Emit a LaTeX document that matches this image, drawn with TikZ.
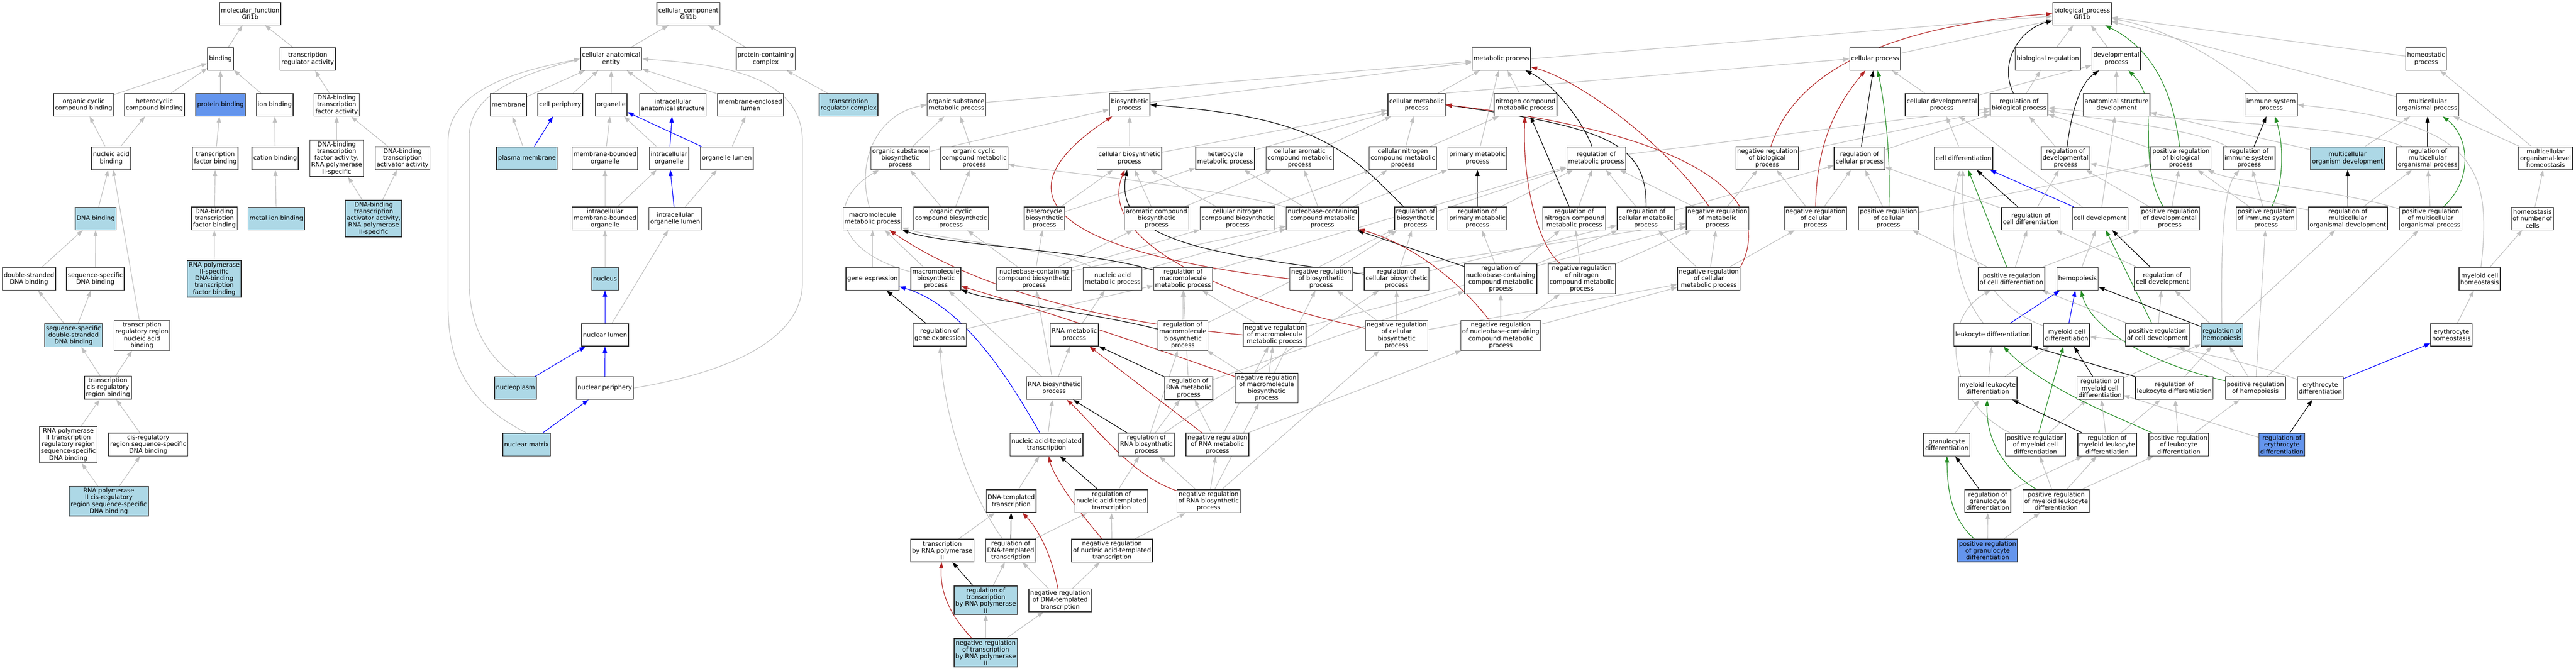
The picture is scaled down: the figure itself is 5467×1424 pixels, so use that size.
\documentclass[tikz,border=0pt]{standalone}
\usepackage{fontspec}
\setmainfont{DejaVu Sans}
\usetikzlibrary{arrows.meta,backgrounds}
\definecolor{lbcol}{HTML}{ADD8E6}
\definecolor{cfcol}{HTML}{6495ED}
\definecolor{gcol}{HTML}{C0C0C0}
\definecolor{rcol}{HTML}{B22222}
\definecolor{fcol}{HTML}{228B22}
\definecolor{bcol}{HTML}{0000FF}
\newcommand{\gofnt}{\fontsize{13}{14.5}\selectfont}
\begin{document}
\begin{tikzpicture}[x=1pt,y=-1pt,
 gobox/.style={draw=black!80, line width=1.6pt, fill=white, rectangle, align=center,
   inner xsep=3pt, inner ysep=3.5pt, minimum height=48pt, font=\gofnt},
 lb/.style={gobox, fill=lbcol},
 cf/.style={gobox, fill=cfcol},
 edgebase/.style={line width=1.3pt, -{Triangle[length=13pt,width=9pt]}},
 isa/.style={edgebase, draw=gcol},
 regl/.style={edgebase, draw=black},
 negr/.style={edgebase, draw=rcol},
 posr/.style={edgebase, draw=fcol},
 partof/.style={edgebase, draw=bcol}]
\begin{pgfonlayer}{background}
\fill[white] (0,0) rectangle (5467,1424);
\end{pgfonlayer}
\useasboundingbox (0,0) rectangle (5467,1424);
% ---------------- molecular function ----------------
\node[gobox] (mf) at (531,29) {molecular\_function\\Gfi1b};
\node[gobox] (binding) at (468,125) {binding};
\node[gobox] (tra) at (653,125) {transcription\\regulator activity};
\node[gobox] (ocb) at (177.5,222.5) {organic cyclic\\compound binding};
\node[gobox] (hcb) at (327.6,222.5) {heterocyclic\\compound binding};
\node[cf] (pb) at (468,222.5) {protein binding};
\node[gobox] (ib) at (583,222.5) {ion binding};
\node[gobox] (dtfa) at (714.5,222.5) {DNA-binding\\transcription\\factor activity};
\node[gobox] (nab) at (236,336) {nucleic acid\\binding};
\node[gobox] (tfb) at (457,336) {transcription\\factor binding};
\node[gobox] (cb) at (584,336) {cation binding};
\node[gobox] (dtfa2) at (714.5,336) {DNA-binding\\transcription\\factor activity,\\RNA polymerase\\II-specific};
\node[gobox] (dtaa) at (854.4,336) {DNA-binding\\transcription\\activator activity};
\node[lb] (dnab) at (203,464) {DNA binding};
\node[gobox] (dtfb) at (455,464) {DNA-binding\\transcription\\factor binding};
\node[lb] (mib) at (586.5,464) {metal ion binding};
\node[lb] (dtaa2) at (793,464) {DNA-binding\\transcription\\activator activity,\\RNA polymerase\\II-specific};
\node[gobox] (dsdb) at (61.4,592) {double-stranded\\DNA binding};
\node[gobox] (ssdb) at (202.4,592) {sequence-specific\\DNA binding};
\node[lb] (r2tfb) at (454.6,592) {RNA polymerase\\II-specific\\DNA-binding\\transcription\\factor binding};
\node[lb] (ssds) at (156,712) {sequence-specific\\double-stranded\\DNA binding};
\node[gobox] (trrnab) at (301.3,712) {transcription\\regulatory region\\nucleic acid\\binding};
\node[gobox] (tcrb) at (229,823) {transcription\\cis-regulatory\\region binding};
\node[gobox] (r2trr) at (145,944) {RNA polymerase\\II transcription\\regulatory region\\sequence-specific\\DNA binding};
\node[gobox] (crss) at (314.6,944) {cis-regulatory\\region sequence-specific\\DNA binding};
\node[lb] (r2cr) at (230.8,1064) {RNA polymerase\\II cis-regulatory\\region sequence-specific\\DNA binding};
% ---------------- cellular component ----------------
\node[gobox] (cc) at (1461,29) {cellular\_component\\Gfi1b};
\node[gobox] (cae) at (1297,125) {cellular anatomical\\entity};
\node[gobox] (pcc) at (1625,125) {protein-containing\\complex};
\node[gobox] (mem) at (1079,222.5) {membrane};
\node[gobox] (cper) at (1189,222.5) {cell periphery};
\node[gobox] (org) at (1297.5,222.5) {organelle};
\node[gobox] (ias) at (1428,222.5) {intracellular\\anatomical structure};
\node[gobox] (mel) at (1593,222.5) {membrane-enclosed\\lumen};
\node[lb] (trc) at (1801,222.5) {transcription\\regulator complex};
\node[lb] (pm) at (1118.5,336) {plasma membrane};
\node[gobox] (mbo) at (1284,336) {membrane-bounded\\organelle};
\node[gobox] (io) at (1420,336) {intracellular\\organelle};
\node[gobox] (ol) at (1542.6,336) {organelle lumen};
\node[gobox] (imbo) at (1284,464) {intracellular\\membrane-bounded\\organelle};
\node[gobox] (iol) at (1433,464) {intracellular\\organelle lumen};
\node[lb] (nuc) at (1284,592) {nucleus};
\node[gobox] (nl) at (1284,711) {nuclear lumen};
\node[lb] (np) at (1094,824) {nucleoplasm};
\node[gobox] (nper) at (1283.4,824) {nuclear periphery};
\node[lb] (nm) at (1117.5,944) {nuclear matrix};
% ---------------- biological process ----------------
\node[gobox] (bp) at (4418.7,29) {biological\_process\\Gfi1b};
\node[gobox] (mp) at (3186.3,125) {metabolic process};
\node[gobox] (cp) at (3979.4,125) {cellular process};
\node[gobox] (br) at (4346,125) {biological regulation};
\node[gobox] (dp) at (4491.5,125) {developmental\\process};
\node[gobox] (hp) at (5148.9,125) {homeostatic\\process};
\node[gobox] (osmp) at (2030,222.5) {organic substance\\metabolic process};
\node[gobox] (bsp) at (2397.5,222.5) {biosynthetic\\process};
\node[gobox] (cmp) at (3006.4,222.5) {cellular metabolic\\process};
\node[gobox] (ncmp) at (3237.5,222.5) {nitrogen compound\\metabolic process};
\node[gobox] (cdp) at (4121,222.5) {cellular developmental\\process};
\node[gobox] (rbp) at (4285,222.5) {regulation of\\biological process};
\node[gobox] (asd) at (4491.9,222.5) {anatomical structure\\development};
\node[gobox] (isp) at (4819.9,222.5) {immune system\\process};
\node[gobox] (mop) at (5152,222.5) {multicellular\\organismal process};
\node[gobox] (osbp) at (1910.6,336) {organic substance\\biosynthetic\\process};
\node[gobox] (occmp) at (2067.7,336) {organic cyclic\\compound metabolic\\process};
\node[gobox] (cbp) at (2397,336) {cellular biosynthetic\\process};
\node[gobox] (hmp) at (2600,336) {heterocycle\\metabolic process};
\node[gobox] (cacmp) at (2758.4,336) {cellular aromatic\\compound metabolic\\process};
\node[gobox] (cncmp) at (2977.3,336) {cellular nitrogen\\compound metabolic\\process};
\node[gobox] (pmp) at (3135.5,336) {primary metabolic\\process};
\node[gobox] (rmp) at (3387.7,336) {regulation of\\metabolic process};
\node[gobox] (nrbp) at (3750.4,336) {negative regulation\\of biological\\process};
\node[gobox] (rcp) at (3946.4,336) {regulation of\\cellular process};
\node[gobox] (cd) at (4167,336) {cell differentiation};
\node[gobox] (rdp) at (4383.6,336) {regulation of\\developmental\\process};
\node[gobox] (prbp) at (4628.6,336) {positive regulation\\of biological\\process};
\node[gobox] (risp) at (4773.3,336) {regulation of\\immune system\\process};
\node[lb] (mod) at (4982.2,336) {multicellular\\organism development};
\node[gobox] (rmop) at (5152,336) {regulation of\\multicellular\\organismal process};
\node[gobox] (molh) at (5402.4,336) {multicellular\\organismal-level\\homeostasis};
\node[gobox] (mmp) at (1851.7,464) {macromolecule\\metabolic process};
\node[gobox] (occbp) at (2018.3,464) {organic cyclic\\compound biosynthetic\\process};
\node[gobox] (hbp) at (2216.5,464) {heterocycle\\biosynthetic\\process};
\node[gobox] (acbp) at (2454.6,464) {aromatic compound\\biosynthetic\\process};
\node[gobox] (cncbp) at (2626.5,464) {cellular nitrogen\\compound biosynthetic\\process};
\node[gobox] (nccmp) at (2806.5,464) {nucleobase-containing\\compound metabolic\\process};
\node[gobox] (rbsp) at (3004,464) {regulation of\\biosynthetic\\process};
\node[gobox] (rpmp) at (3135.5,464) {regulation of\\primary metabolic\\process};
\node[gobox] (rncmp) at (3341,464) {regulation of\\nitrogen compound\\metabolic process};
\node[gobox] (rcmp) at (3493,464) {regulation of\\cellular metabolic\\process};
\node[gobox] (nrmp) at (3645,464) {negative regulation\\of metabolic\\process};
\node[gobox] (nrcp) at (3853,464) {negative regulation\\of cellular\\process};
\node[gobox] (prcp) at (4007.8,464) {positive regulation\\of cellular\\process};
\node[gobox] (rcd) at (4310,464) {regulation of\\cell differentiation};
\node[gobox] (cdev) at (4457,464) {cell development};
\node[gobox] (prdp) at (4604.8,464) {positive regulation\\of developmental\\process};
\node[gobox] (prisp) at (4809.3,464) {positive regulation\\of immune system\\process};
\node[gobox] (rmod) at (4982.9,464) {regulation of\\multicellular\\organismal development};
\node[gobox] (prmop) at (5158.4,464) {positive regulation\\of multicellular\\organismal process};
\node[gobox] (hnc) at (5374.5,464) {homeostasis\\of number of\\cells};
\node[gobox] (ge) at (1851.7,592) {gene expression};
\node[gobox] (mbp) at (1986.3,592) {macromolecule\\biosynthetic\\process};
\node[gobox] (nccbp) at (2194.7,592) {nucleobase-containing\\compound biosynthetic\\process};
\node[gobox] (namp) at (2361.3,592) {nucleic acid\\metabolic process};
\node[gobox] (rmmp) at (2510.8,592) {regulation of\\macromolecule\\metabolic process};
\node[gobox] (nrbsp) at (2804,592) {negative regulation\\of biosynthetic\\process};
\node[gobox] (rcbp) at (2964,592) {regulation of\\cellular biosynthetic\\process};
\node[gobox] (rnccmp) at (3185,592) {regulation of\\nucleobase-containing\\compound metabolic\\process};
\node[gobox] (nrncmp) at (3357,592) {negative regulation\\of nitrogen\\compound metabolic\\process};
\node[gobox] (nrcmp) at (3626.5,592) {negative regulation\\of cellular\\metabolic process};
\node[gobox] (prcd) at (4269,592) {positive regulation\\of cell differentiation};
\node[gobox] (hem) at (4409,592) {hemopoiesis};
\node[gobox] (rcdev) at (4589.2,592) {regulation of\\cell development};
\node[gobox] (mch) at (5262.5,592) {myeloid cell\\homeostasis};
\node[gobox] (rge) at (1994.4,711) {regulation of\\gene expression};
\node[gobox] (rnamp) at (2280,711) {RNA metabolic\\process};
\node[gobox] (rmbp) at (2510.4,712) {regulation of\\macromolecule\\biosynthetic\\process};
\node[gobox] (nrmmp) at (2705,711) {negative regulation\\of macromolecule\\metabolic process};
\node[gobox] (nrcbp) at (2964,712) {negative regulation\\of cellular\\biosynthetic\\process};
\node[gobox] (nrnccmp) at (3185,712) {negative regulation\\of nucleobase-containing\\compound metabolic\\process};
\node[gobox] (ld) at (4229,711) {leukocyte differentiation};
\node[gobox] (mcd) at (4386,711) {myeloid cell\\differentiation};
\node[gobox] (prcdev) at (4578.6,711) {positive regulation\\of cell development};
\node[lb] (rhem) at (4715.8,711) {regulation of\\hemopoiesis};
\node[gobox] (eh) at (5202.6,711) {erythrocyte\\homeostasis};
\node[gobox] (rnabp) at (2237,824) {RNA biosynthetic\\process};
\node[gobox] (rrnamp) at (2522.7,824) {regulation of\\RNA metabolic\\process};
\node[gobox] (nrmbp) at (2688,824) {negative regulation\\of macromolecule\\biosynthetic\\process};
\node[gobox] (mld) at (4218.3,824) {myeloid leukocyte\\differentiation};
\node[gobox] (rmcd) at (4456.8,824) {regulation of\\myeloid cell\\differentiation};
\node[gobox] (rld) at (4614.4,824) {regulation of\\leukocyte differentiation};
\node[gobox] (prhem) at (4786.5,824) {positive regulation\\of hemopoiesis};
\node[gobox] (ed) at (4924.3,824) {erythrocyte\\differentiation};
\node[gobox] (natt) at (2221,944) {nucleic acid-templated\\transcription};
\node[gobox] (rrnabp) at (2433,944) {regulation of\\RNA biosynthetic\\process};
\node[gobox] (nrrnamp) at (2583.7,944) {negative regulation\\of RNA metabolic\\process};
\node[gobox] (gd) at (4131.6,944) {granulocyte\\differentiation};
\node[gobox] (prmcd) at (4319.6,944) {positive regulation\\of myeloid cell\\differentiation};
\node[gobox] (rmld) at (4471.8,944) {regulation of\\myeloid leukocyte\\differentiation};
\node[gobox] (prld) at (4623.9,944) {positive regulation\\of leukocyte\\differentiation};
\node[cf] (red) at (4842.7,944) {regulation of\\erythrocyte\\differentiation};
\node[gobox] (dtt) at (2146,1064) {DNA-templated\\transcription};
\node[gobox] (rnatt) at (2358.5,1064) {regulation of\\nucleic acid-templated\\transcription};
\node[gobox] (nrrnabp) at (2565,1064) {negative regulation\\of RNA biosynthetic\\process};
\node[gobox] (rgd) at (4218.6,1064) {regulation of\\granulocyte\\differentiation};
\node[gobox] (prmld) at (4363.7,1064) {positive regulation\\of myeloid leukocyte\\differentiation};
\node[gobox] (tr2) at (1999.7,1169) {transcription\\by RNA polymerase\\II};
\node[gobox] (rdtt) at (2145,1169) {regulation of\\DNA-templated\\transcription};
\node[gobox] (nrnatt) at (2360,1169) {negative regulation\\of nucleic acid-templated\\transcription};
\node[cf] (prgd) at (4218.3,1169) {positive regulation\\of granulocyte\\differentiation};
\node[lb] (rtr2) at (2092,1274.5) {regulation of\\transcription\\by RNA polymerase\\II};
\node[gobox] (nrdtt) at (2250,1274.5) {negative regulation\\of DNA-templated\\transcription};
\node[lb] (nrtr2) at (2092,1386) {negative regulation\\of transcription\\by RNA polymerase\\II};
% ================= edges =================
\begin{pgfonlayer}{background}
% MF
\draw[isa] (binding) -- (mf); \draw[isa] (tra) -- (mf);
\draw[isa] (ocb) -- (binding); \draw[isa] (hcb) -- (binding); \draw[isa] (pb) -- (binding); \draw[isa] (ib) -- (binding);
\draw[isa] (dtfa) -- (tra);
\draw[isa] (nab) -- (ocb); \draw[isa] (nab) -- (hcb);
\draw[isa] (tfb) -- (pb); \draw[isa] (cb) -- (ib);
\draw[isa] (dtfa2) -- (dtfa); \draw[isa] (dtaa) -- (dtfa);
\draw[isa] (dnab) -- (nab); \draw[isa] (trrnab) -- (nab);
\draw[isa] (dtfb) -- (tfb); \draw[isa] (mib) -- (cb);
\draw[isa] (dtaa2) -- (dtfa2); \draw[isa] (dtaa2) -- (dtaa);
\draw[isa] (dsdb) -- (dnab); \draw[isa] (ssdb) -- (dnab);
\draw[isa] (r2tfb) -- (dtfb);
\draw[isa] (ssds) -- (dsdb); \draw[isa] (ssds) -- (ssdb);
\draw[isa] (tcrb) -- (ssds); \draw[isa] (tcrb) -- (trrnab);
\draw[isa] (r2trr) -- (tcrb); \draw[isa] (crss) -- (tcrb);
\draw[isa] (r2cr) -- (r2trr); \draw[isa] (r2cr) -- (crss);
% CC
\draw[isa] (cae) -- (cc); \draw[isa] (pcc) -- (cc);
\draw[isa] (mem) -- (cae); \draw[isa] (cper) -- (cae); \draw[isa] (org) -- (cae);
\draw[isa] (ias) -- (cae); \draw[isa] (mel) -- (cae);
\draw[isa] (trc) -- (pcc);
\draw[partof] (pm) -- (cper); \draw[isa] (pm) -- (mem);
\draw[isa] (mbo) -- (org); \draw[isa] (io) -- (org); \draw[partof] (io) -- (ias);
\draw[partof] (ol) -- (org); \draw[isa] (ol) -- (mel);
\draw[isa] (imbo) -- (mbo); \draw[isa] (imbo) -- (io);
\draw[partof] (iol) -- (io); \draw[isa] (iol) -- (ol);
\draw[isa] (nuc) -- (imbo);
\draw[partof] (nl) -- (nuc); \draw[isa] (nl) -- (iol);
\draw[partof] (np) -- (nl); \draw[partof] (nper) -- (nl); \draw[partof] (nm) -- (nper);
\draw[isa] (np.north) .. controls (1040,760) and (996,700) .. (996,600) -- (996,290) .. controls (996,200) and (1100,160) .. (cae.west);
\draw[isa] (nm.north) .. controls (1000,860) and (951,780) .. (951,650) -- (951,300) .. controls (951,190) and (1100,150) .. (cae.west);
\draw[isa] (nper.east) .. controls (1550,790) and (1703,720) .. (1703,600) -- (1703,300) .. controls (1703,150) and (1500,135) .. (cae.east);
% BP top
\draw[isa] (mp.east) -- (bp); \draw[isa] (cp) -- (bp); \draw[isa] (br) -- (bp); \draw[isa] (dp) -- (bp);
\draw[isa] (isp) .. controls (4720,130) and (4600,60) .. (bp);
\draw[isa] (mop) -- (bp); \draw[isa] (hp) -- (bp);
\draw[regl] (rbp) .. controls (4240,130) and (4290,60) .. (bp);
\draw[negr] (nrbp) .. controls (3800,180) and (3950,60) .. (bp.west);
\draw[posr] (prbp) .. controls (4610,180) and (4560,100) .. (bp);
\draw[isa] (osmp) -- (mp); \draw[isa] (bsp) -- (mp); \draw[isa] (cmp) -- (mp); \draw[isa] (ncmp) -- (mp); \draw[isa] (pmp) -- (mp);
\draw[isa] (cmp.north east) -- (cp.west); \draw[isa] (cdp) -- (cp); \draw[isa] (cdp) -- (dp);
\draw[regl] (rmp) .. controls (3360,260) and (3300,180) .. (mp);
\draw[negr] (nrmp) .. controls (3530,300) and (3350,170) .. (mp);
\draw[isa] (rbp) -- (br); \draw[isa] (asd) -- (dp);
\draw[isa] (osbp) -- (osmp); \draw[isa] (occmp) -- (osmp);
\draw[isa] (mmp) .. controls (1815,330) and (1870,240) .. (osmp.west);
\draw[isa] (osbp) -- (bsp);
\draw[isa] (cbp) -- (bsp); \draw[isa] (cbp) -- (cmp);
\draw[isa] (hmp) -- (cmp); \draw[isa] (cacmp) -- (cmp); \draw[isa] (cncmp) -- (cmp); \draw[isa] (cncmp) -- (ncmp);
\draw[isa] (rmp) -- (rbp); \draw[isa] (nrbp) -- (rbp); \draw[isa] (rcp) -- (rbp); \draw[isa] (rdp) -- (rbp);
\draw[isa] (risp) .. controls (4650,270) and (4450,255) .. (rbp);
\draw[isa] (rmop) .. controls (5000,265) and (4600,255) .. (rbp);
\draw[isa] (prbp) -- (rbp);
\draw[regl] (rcp) -- (cp);
\draw[negr] (nrcp) .. controls (3855,300) and (3900,220) .. (cp);
\draw[posr] (prcp) .. controls (4013,330) and (4000,220) .. (cp);
\draw[isa] (cd) -- (cdp);
\draw[regl] (rdp) .. controls (4395,250) and (4410,180) .. (dp);
\draw[isa] (mod) -- (asd); \draw[isa] (mod) -- (mop);
\draw[regl] (rmop) -- (mop); \draw[regl] (risp) -- (isp);
\draw[isa] (molh) -- (hp); \draw[isa] (molh) -- (mop);
% BP metabolic
\draw[isa] (occbp) -- (occmp); \draw[isa] (occbp) -- (osbp);
\draw[isa] (hbp) -- (cbp); \draw[isa] (hbp) -- (hmp);
\draw[isa] (acbp) -- (cbp); \draw[isa] (acbp) -- (cacmp);
\draw[isa] (cncbp) -- (cbp); \draw[isa] (cncbp) -- (cncmp);
\draw[isa] (nccmp) -- (hmp); \draw[isa] (nccmp) -- (cacmp); \draw[isa] (nccmp) -- (cncmp);
\draw[isa] (nccmp) .. controls (2600,400) and (2200,360) .. (occmp);
\draw[isa] (nccmp) -- (pmp);
\draw[regl] (rbsp) .. controls (2860,320) and (2800,250) .. (bsp.east);
\draw[isa] (rbsp) -- (rmp);
\draw[regl] (rpmp) -- (pmp); \draw[isa] (rpmp) -- (rmp);
\draw[regl] (rncmp) -- (ncmp); \draw[isa] (rncmp) -- (rmp);
\draw[isa] (rcmp) -- (rmp); \draw[isa] (rcmp) -- (rcp);
\draw[regl] (rcmp) .. controls (3496,300) and (3400,270) .. (cmp.east);
\draw[isa] (nrmp) -- (rmp); \draw[isa] (nrmp) -- (nrbp);
\draw[isa] (nrcp) -- (nrbp); \draw[isa] (nrcp) -- (rcp);
\draw[isa] (prcp) -- (rcp); \draw[isa] (prcp) -- (prbp);
\draw[regl] (rcd) -- (cd); \draw[isa] (rcd) -- (rcp); \draw[isa] (rcd) -- (rdp);
\draw[partof] (cdev) -- (cd); \draw[isa] (cdev) -- (asd);
\draw[isa] (cdev) .. controls (4300,360) and (4220,290) .. (cdp);
\draw[isa] (prdp) -- (rdp); \draw[isa] (prdp) -- (prbp);
\draw[posr] (prdp) .. controls (4530,330) and (4590,220) .. (dp);
\draw[isa] (prisp) -- (risp); \draw[isa] (prisp) -- (prbp);
\draw[posr] (prisp) .. controls (4850,380) and (4845,300) .. (isp);
\draw[regl] (rmod) -- (mod); \draw[isa] (rmod) -- (rmop); \draw[isa] (rmod) -- (rdp);
\draw[isa] (prmop) -- (rmop);
\draw[isa] (prmop) .. controls (4950,400) and (4750,390) .. (prbp);
\draw[posr] (prmop) .. controls (5250,380) and (5240,290) .. (mop);
\draw[isa] (hnc) -- (molh);
\draw[isa] (ge) -- (mmp);
\draw[isa] (mbp) -- (mmp);
\draw[isa] (mbp) .. controls (1760,530) and (1760,420) .. (osbp);
\draw[isa] (nccbp) -- (nccmp); \draw[isa] (nccbp) -- (hbp); \draw[isa] (nccbp) -- (acbp);
\draw[isa] (nccbp) -- (cncbp); \draw[isa] (nccbp) -- (occbp);
\draw[isa] (namp) -- (nccmp); \draw[isa] (namp) .. controls (2250,530) and (2000,510) .. (mmp);
\draw[regl] (rmmp) .. controls (2300,530) and (2000,520) .. (mmp);
\draw[isa] (rmmp) -- (rmp);
\draw[isa] (nrbsp) -- (rbsp);
\draw[negr] (nrbsp.west) .. controls (2250,535) and (2100,420) .. (bsp);
\draw[isa] (nrbsp) -- (nrmp);
\draw[isa] (rcbp) -- (rbsp);
\draw[regl] (rcbp) .. controls (2600,540) and (2360,520) .. (cbp);
\draw[isa] (rcbp) -- (rcmp);
\draw[regl] (rnccmp) -- (nccmp); \draw[isa] (rnccmp) -- (rpmp); \draw[isa] (rnccmp) -- (rcmp); \draw[isa] (rnccmp) -- (rncmp);
\draw[isa] (nrncmp) -- (rncmp); \draw[isa] (nrncmp) -- (nrmp);
\draw[negr] (nrncmp) .. controls (3270,530) and (3230,400) .. (ncmp);
\draw[isa] (nrcmp) -- (rcmp); \draw[isa] (nrcmp) -- (nrmp); \draw[isa] (nrcmp) -- (nrcp);
\draw[negr] (nrcmp.north east) .. controls (3760,440) and (3650,290) .. (cmp.east);
\draw[isa] (prcd) -- (rcd); \draw[posr] (prcd) -- (cd); \draw[isa] (prcd) -- (prcp); \draw[isa] (prcd) -- (prdp);
\draw[isa] (hem) -- (cdev);
\draw[isa] (rcdev) -- (rcd); \draw[regl] (rcdev) -- (cdev);
\draw[isa] (mch) -- (hnc);
\draw[isa] (mch) .. controls (5290,350) and (5250,260) .. (isp.east);
\draw[regl] (rge) -- (ge); \draw[isa] (rge) -- (rmmp);
\draw[isa] (rnamp) -- (namp);
\draw[isa] (rmbp) -- (rmmp); \draw[isa] (rmbp) -- (rbsp);
\draw[regl] (rmbp) .. controls (2300,660) and (2100,640) .. (mbp);
\draw[isa] (nrmmp) -- (rmmp); \draw[isa] (nrmmp) -- (nrmp);
\draw[negr] (nrmmp.west) .. controls (2300,680) and (2050,600) .. (mmp);
\draw[isa] (nrcbp) -- (rcbp); \draw[isa] (nrcbp) -- (nrbsp); \draw[isa] (nrcbp) -- (nrcmp);
\draw[negr] (nrcbp) .. controls (2550,620) and (2330,500) .. (cbp);
\draw[isa] (nrnccmp) -- (rnccmp); \draw[isa] (nrnccmp) -- (nrcmp); \draw[isa] (nrnccmp) -- (nrncmp);
\draw[negr] (nrnccmp) .. controls (3100,600) and (3000,520) .. (nccmp);
% hemopoiesis area
\draw[isa] (ld) .. controls (4140,600) and (4135,450) .. (cd);
\draw[partof] (ld) -- (hem);
\draw[isa] (mcd) .. controls (4200,640) and (4160,500) .. (cd);
\draw[partof] (mcd) -- (hem);
\draw[isa] (prcdev) -- (rcdev); \draw[posr] (prcdev) -- (cdev); \draw[isa] (prcdev) -- (prcd);
\draw[regl] (rhem) -- (hem); \draw[isa] (rhem) -- (rcdev); \draw[isa] (rhem) -- (rmod);
\draw[isa] (rhem) .. controls (4713,500) and (4720,400) .. (risp);
\draw[isa] (eh) -- (mch);
\draw[isa] (rnabp) -- (rnamp); \draw[isa] (rnabp) -- (nccbp); \draw[isa] (rnabp) -- (mbp);
\draw[regl] (rrnamp) -- (rnamp); \draw[isa] (rrnamp) -- (rnccmp); \draw[isa] (rrnamp) -- (rmmp);
\draw[isa] (nrmbp) -- (rmbp); \draw[isa] (nrmbp) -- (nrmmp); \draw[isa] (nrmbp) -- (nrbsp);
\draw[negr] (nrmbp) .. controls (2400,720) and (2150,640) .. (mbp);
\draw[isa] (mld) -- (ld); \draw[isa] (mld) -- (mcd);
\draw[regl] (rmcd) -- (mcd); \draw[isa] (rmcd) -- (rhem);
\draw[regl] (rld) -- (ld); \draw[isa] (rld) -- (rhem);
\draw[posr] (prhem) .. controls (4560,770) and (4440,700) .. (hem);
\draw[isa] (prhem) -- (rhem); \draw[isa] (prhem) -- (prcdev); \draw[isa] (prhem) -- (prisp); \draw[isa] (prhem) -- (prmop);
\draw[partof] (ed) -- (eh);
\draw[isa] (ed) .. controls (4780,770) and (4600,730) .. (mcd);
\draw[isa] (natt) -- (rnabp);
\draw[partof] (natt) .. controls (2150,820) and (2050,650) .. (ge);
\draw[regl] (rrnabp) -- (rnabp); \draw[isa] (rrnabp) -- (rrnamp); \draw[isa] (rrnabp) -- (rmbp); \draw[isa] (rrnabp) -- (rcbp);
\draw[isa] (nrrnamp) -- (rrnamp); \draw[negr] (nrrnamp) -- (rnamp); \draw[isa] (nrrnamp) -- (nrmmp); \draw[isa] (nrrnamp) -- (nrnccmp);
\draw[isa] (gd) -- (mld);
\draw[posr] (prmcd) -- (mcd); \draw[isa] (prmcd) -- (rmcd);
\draw[isa] (prmcd) .. controls (4140,860) and (4110,680) .. (prcd);
\draw[isa] (rmld) -- (rmcd); \draw[isa] (rmld) -- (rld); \draw[regl] (rmld) -- (mld);
\draw[isa] (prld) -- (rld); \draw[isa] (prld) -- (prhem);
\draw[posr] (prld) .. controls (4480,880) and (4330,820) .. (ld);
\draw[regl] (red) -- (ed); \draw[isa] (red) -- (rmcd);
\draw[isa] (dtt) -- (natt);
\draw[regl] (rnatt) -- (natt); \draw[isa] (rnatt) -- (rrnabp);
\draw[isa] (nrrnabp) -- (rrnabp); \draw[isa] (nrrnabp) -- (nrrnamp); \draw[isa] (nrrnabp) -- (nrmbp); \draw[isa] (nrrnabp) -- (nrcbp);
\draw[negr] (nrrnabp) .. controls (2400,1010) and (2320,900) .. (rnabp);
\draw[regl] (rgd) -- (gd); \draw[isa] (rgd) -- (rmld);
\draw[isa] (prmld) -- (prmcd); \draw[isa] (prmld) -- (rmld); \draw[isa] (prmld) -- (prld);
\draw[posr] (prmld) .. controls (4240,990) and (4215,920) .. (mld);
\draw[isa] (tr2) -- (dtt);
\draw[regl] (rdtt) -- (dtt); \draw[isa] (rdtt) -- (rnatt);
\draw[isa] (rdtt) .. controls (2040,1020) and (2000,850) .. (rge);
\draw[isa] (nrnatt) -- (rnatt); \draw[isa] (nrnatt) -- (nrrnabp);
\draw[negr] (nrnatt) .. controls (2250,1040) and (2230,990) .. (natt);
\draw[posr] (prgd) .. controls (4140,1100) and (4133,1040) .. (gd);
\draw[isa] (prgd) -- (rgd); \draw[isa] (prgd) -- (prmld);
\draw[isa] (rtr2) -- (rdtt); \draw[regl] (rtr2) -- (tr2);
\draw[isa] (nrdtt) -- (rdtt); \draw[isa] (nrdtt) -- (nrnatt);
\draw[negr] (nrdtt) .. controls (2230,1170) and (2200,1120) .. (dtt);
\draw[isa] (nrtr2) -- (rtr2); \draw[isa] (nrtr2) -- (nrdtt);
\draw[negr] (nrtr2) .. controls (2010,1300) and (1995,1250) .. (tr2);
\end{pgfonlayer}
\end{tikzpicture}
\end{document}
